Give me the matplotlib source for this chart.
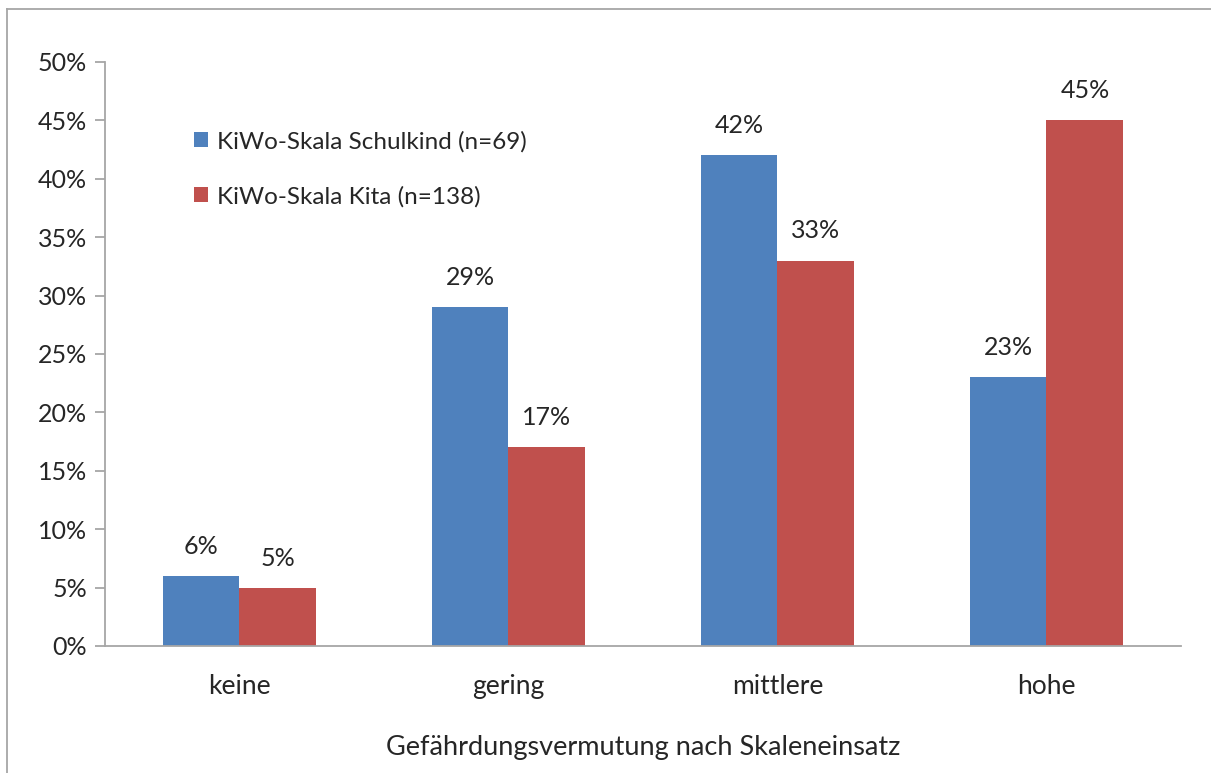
#!/usr/bin/env python3
# -*- coding: utf-8 -*-
"""
Balkendiagramm: Gefährdungsvermutung nach Skaleneinsatz.
"""

import numpy as np
import matplotlib.pyplot as plt
from matplotlib.lines import Line2D

### set rcParams
plt.rcParams['font.family'] = ['Lato', 'DejaVu Sans']
plt.rcParams['font.size'] = 18

# data
categories = ['keine', 'gering', 'mittlere', 'hohe']
schulkind = [6, 29, 42, 23]
kita = [5, 17, 33, 45]
series_names = ['KiWo-Skala Schulkind (n=69)', 'KiWo-Skala Kita (n=138)']
yticks = [0, 5, 10, 15, 20, 25, 30, 35, 40, 45, 50]

# styles
c_blue = '#4F81BD'
c_red = '#C0504D'
c_axis = '#A6A6A6'
c_text = '#262626'

fig = plt.figure(figsize=(12.11, 7.73), dpi=100)
ax = fig.add_axes([0.0867, 0.1643, 0.8885, 0.7555])

x = np.arange(len(categories))
w = 0.286
b1 = ax.bar(x - w/2, schulkind, w, color=c_blue, label=series_names[0])
b2 = ax.bar(x + w/2, kita, w, color=c_red, label=series_names[1])

# data labels
for bars, vals in [(b1, schulkind), (b2, kita)]:
    for bar, v in zip(bars, vals):
        ax.annotate(f"{v}%", (bar.get_x() + bar.get_width()/2, v),
                    xytext=(0, 13), textcoords='offset points',
                    ha='center', va='bottom', color=c_text)

# axes
ax.set_xlim(-0.5, len(categories) - 0.5)
ax.set_ylim(0, 50)
ax.set_yticks(yticks)
ax.set_yticklabels([f"{t}%" for t in yticks], color=c_text)
ax.set_xticks(x)
ax.set_xticklabels(categories, color=c_text, fontsize=19)
ax.tick_params(axis='x', length=0, pad=20)
ax.tick_params(axis='y', length=7, width=1.3, color=c_axis, pad=6)
ax.set_xlabel('Gefährdungsvermutung nach Skaleneinsatz', color=c_text,
              fontsize=19.5, labelpad=26)

for s in ['top', 'right']:
    ax.spines[s].set_visible(False)
for s in ['left', 'bottom']:
    ax.spines[s].set_color(c_axis)
    ax.spines[s].set_linewidth(1.3)

# legend
ax.legend(loc='upper left', bbox_to_anchor=(0.062, 0.92), frameon=False,
          fontsize=17.5, handlelength=0.6, handleheight=0.6, handletextpad=0.35,
          labelspacing=1.38, labelcolor=c_text)

# outer border (top and left only)
fig.add_artist(Line2D([7/1211, 7/1211], [0, 1 - 9/773], transform=fig.transFigure,
                      color=c_axis, lw=1.3))
fig.add_artist(Line2D([7/1211, 1], [1 - 9/773, 1 - 9/773], transform=fig.transFigure,
                      color=c_axis, lw=1.3))

fig.savefig('out.png', dpi=100)
plt.close()
